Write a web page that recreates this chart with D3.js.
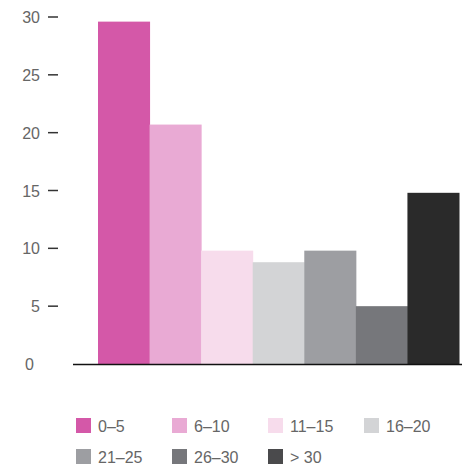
<!DOCTYPE html>
<html>
<head>
<meta charset="utf-8">
<script src="https://cdn.jsdelivr.net/npm/d3@7"></script>
<style>
  body { margin: 0; background: #fff; }
  text { font-family: "Liberation Sans", Arial, sans-serif; fill: #666; }
</style>
</head>
<body>
<div id="chart"></div>
<script>
// categories and values
var categories = ['0–5', '6–10', '11–15', '16–20', '21–25', '26–30', '> 30'];
var values = [29.6, 20.7, 9.8, 8.8, 9.8, 5.0, 14.8];
var barColors = ['#d458a8', '#e9aad4', '#f7dcec', '#d3d4d6', '#9d9ea2', '#76777b', '#2a2a2a'];
var legendColors = ['#d458a8', '#e9aad4', '#f7dcec', '#d3d4d6', '#9d9ea2', '#76777b', '#4a4a4c'];
var yTicks = [0, 5, 10, 15, 20, 25, 30];

var width = 468, height = 468;

const svg = d3.select('#chart').append('svg')
    .attr('width', width)
    .attr('height', height)

// scales
var x = d3.scaleBand()
    .domain(categories)
    .range([98, 459])
    .padding(0)

var y = d3.scaleLinear()
    .domain([0, 30])
    .range([364, 17])

// bars
svg.selectAll('rect.bar')
    .data(values)
    .enter()
    .append('rect')
    .attr('class', 'bar')
    .attr('x', function(d, i) { return x(categories[i]) })
    .attr('width', x.bandwidth() + 0.5)
    .attr('y', d => y(d))
    .attr('height', d => y(0) - y(d))
    .attr('fill', (d, i) => barColors[i])

// y axis: labels and short dashes, no 0 dash
var yAxis = d3.axisLeft(y)
    .tickValues(yTicks)
    .tickSize(0)
    .tickPadding(0)

var gy = svg.append('g')
    .attr('transform', 'translate(40,0)')
    .call(yAxis)
gy.select('.domain').remove()
gy.selectAll('text')
    .style('font-size', '16px')
    .style('fill', '#666')
    .attr('dy', '0.35em')
    .attr('x', d => d === 0 ? -6 : 0)   // the 0 sits a bit further left

svg.selectAll('line.tick')
    .data(yTicks.filter(d => d > 0))
    .enter()
    .append('line')
    .attr('x1', 48)
    .attr('x2', 58)
    .attr('y1', d => y(d))
    .attr('y2', d => y(d))
    .attr('stroke', '#333')
    .attr('stroke-width', 1.5)

// baseline
svg.append('line')
    .attr('x1', 73)
    .attr('x2', 462)
    .attr('y1', y(0) + 0.5)
    .attr('y2', y(0) + 0.5)
    .attr('stroke', '#111')
    .attr('stroke-width', 1.5)

// legend, 4 per row
var legend = svg.selectAll('g.legend')
    .data(categories)
    .enter()
    .append('g')
    .attr('class', 'legend')
    .attr('transform', function(d, i) {
        return 'translate(' + (76 + (i % 4) * 96) + ',' + (418 + Math.floor(i / 4) * 31) + ')'
    })

legend.append('rect')
    .attr('width', 15)
    .attr('height', 15)
    .attr('fill', (d, i) => legendColors[i])

legend.append('text')
    .attr('x', 22)
    .attr('y', 8)
    .attr('dy', '0.36em')
    .style('font-size', '16px')
    .text(d => d)
</script>
</body>
</html>
